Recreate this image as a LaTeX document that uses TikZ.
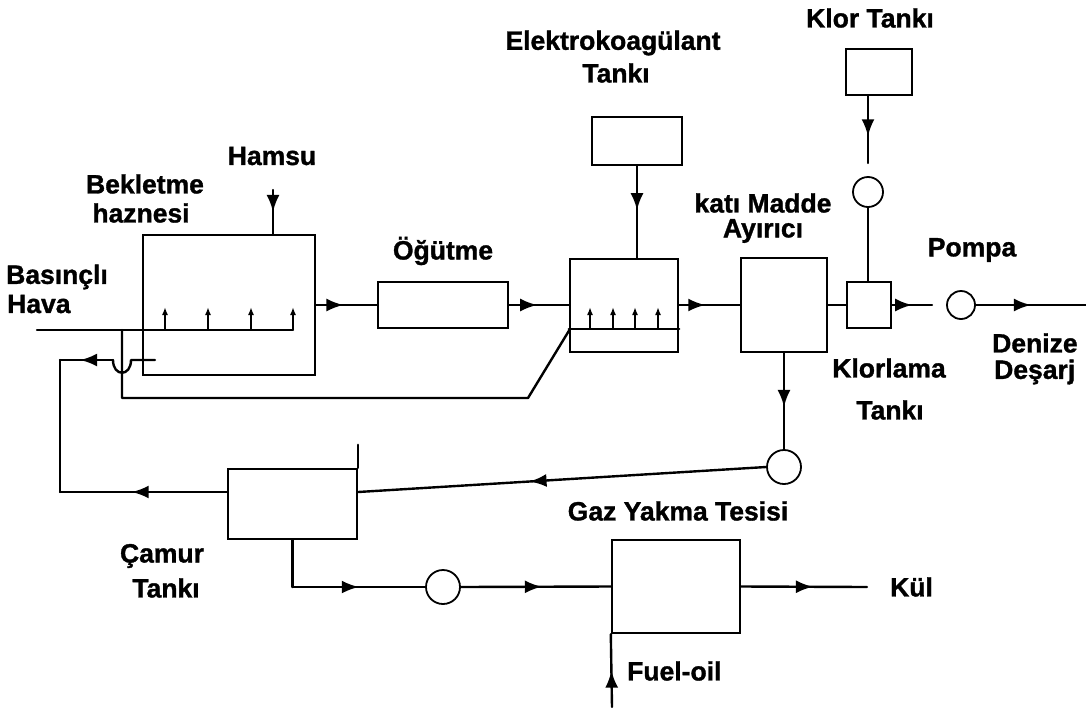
\documentclass[tikz,border=0pt]{standalone}
\usepackage{fontspec}
\setmainfont{Liberation Sans}[BoldFeatures={FakeBold=1.2}]
\usetikzlibrary{arrows.meta,decorations.markings}
\tikzset{
 ln/.style={line width=2.4pt, line cap=round, line join=round},
 box/.style={draw, line width=2.4pt, rectangle, inner sep=0pt},
 circ/.style={draw, line width=1.8pt, circle, inner sep=0pt},
 lbl/.style={font=\bfseries\fontsize{26.5}{30}\selectfont, inner sep=0pt},
 midarr/.style={postaction={decorate}, decoration={markings, mark=at position #1 with {\arrow{Latex[length=17pt,width=13pt]}}}},
 diff/.style={line width=2pt, -{Latex[length=8pt,width=6pt]}},
}
\begin{document}
\begin{tikzpicture}[x=1pt,y=-1pt]
\useasboundingbox (0,0) rectangle (1086,707);
% boxes
\node[box, minimum width=172pt, minimum height=140pt] (bek) at (229,305) {};
\node[box, minimum width=130pt, minimum height=46pt] (ogut) at (443,305) {};
\node[box, minimum width=108pt, minimum height=93pt] (ek) at (624,305.5) {};
\node[box, minimum width=90pt, minimum height=48pt] (ektank) at (637,141) {};
\node[box, minimum width=86pt, minimum height=94pt] (kma) at (784,305) {};
\node[box, minimum width=44pt, minimum height=46pt] (klt) at (869,305) {};
\node[box, minimum width=66pt, minimum height=46pt] (klortank) at (879,72) {};
\node[box, minimum width=129pt, minimum height=70pt] (camur) at (292.5,504) {};
\node[box, minimum width=128pt, minimum height=93pt] (furn) at (676,586.5) {};
% circles
\node[circ, minimum size=30pt] (klorp) at (868,192) {};
\node[circ, minimum size=28pt] (pump) at (961,305) {};
\node[circ, minimum size=34pt] (gaz) at (784,467) {};
\node[circ, minimum size=34pt] (cpump) at (443,587) {};
% labels
\node[lbl] (lklor) at (870,18) {Klor Tankı};
\node[lbl] (lel1) at (613,43) {Elektrokoagülant};
\node[lbl] (lel2) at (616,73) {Tankı};
\node[lbl] (lham) at (272,156) {Hamsu};
\node[lbl] (lbek1) at (145,184) {Bekletme};
\node[lbl] (lbek2) at (141,213) {haznesi};
\node[lbl,anchor=west] (lbas1) at (6,277) {Basınçlı};
\node[lbl,anchor=west] (lbas2) at (7,304) {Hava};
\node[lbl] (logut) at (443,251) {Öğütme};
\node[lbl] (lkat1) at (763,203) {katı Madde};
\node[lbl] (lkat2) at (763,231) {Ayırıcı};
\node[lbl] (lpom) at (972,250) {Pompa};
\node[lbl,anchor=west] (lden1) at (992,343) {Denize};
\node[lbl,anchor=west] (lden2) at (994,372) {Deşarj};
\node[lbl] (lklt1) at (889,368) {Klorlama};
\node[lbl] (lklt2) at (890,410) {Tankı};
\node[lbl] (lgaz) at (678,511) {Gaz Yakma Tesisi};
\node[lbl] (lcam1) at (162,556) {Çamur};
\node[lbl] (lcam2) at (166,588) {Tankı};
\node[lbl,anchor=west] (lkul) at (890,587) {Kül};
\node[lbl,anchor=west] (lfuel) at (627,671) {Fuel-oil};
% coordinates
\coordinate (hamtop) at (273,190);
\coordinate (airL) at (37,330);
\coordinate (airR) at (293,330);
\coordinate (airJ) at (122,330);
\coordinate (airB) at (122,398);
\coordinate (airD) at (528,398);
\coordinate (ekBL) at (570,329);
\coordinate (retIn) at (155,360);
\coordinate (hopR) at (131,360);
\coordinate (hopL) at (113,360);
\coordinate (retT) at (60,360);
\coordinate (retB) at (60,492);
\coordinate (klEnd) at (932,305);
\coordinate (outEnd) at (1086,305);
\coordinate (klorEnd) at (868,163);
\coordinate (kulEnd) at (867,587);
\coordinate (fuelStart) at (612,707);
% main line
\draw[ln,midarr=0.5] (hamtop) -- (bek.north -| hamtop);
\draw[ln,midarr=0.45] (bek.east) -- (ogut.west);
\draw[ln,midarr=0.47] (ogut.east) -- (ek.west |- ogut.east);
\draw[ln,midarr=0.43] (ek.east |- ogut.east) -- (kma.west |- ogut.east);
\draw[ln] (kma.east |- klt.west) -- (klt.west);
\draw[ln,midarr=0.5] (klt.east) -- (klEnd);
\draw[ln,midarr=0.5] (pump.east) -- (outEnd);
% electrocoagulant feed
\draw[ln,midarr=0.48] (ektank.south) -- (ektank.south |- ek.north);
\draw[ln] (ek.west |- ekBL) -- (ek.east |- ekBL);
\foreach \x in {590,613,635,658} \draw[diff] (\x,329) -- (\x,307);
% chlorine
\draw[ln,midarr=0.6] (klortank.south -| klorp) -- (klorEnd);
\draw[ln,line width=1.8pt] (klorp.south) -- (klt.north -| klorp);
% aeration
\draw[ln] (airL) -- (airR);
\foreach \x in {165,208,251,293} \draw[diff] (\x,330) -- (\x,307);
\draw[ln] (airJ) -- (airB) -- (airD) -- (ekBL);
% return loop
\draw[ln] (retIn) -- (hopR) .. controls (131,377) and (113,377) .. (hopL);
\draw[ln,midarr=0.62] (hopL) -- (retT);
\draw[ln] (retT) -- (retB);
\draw[ln,midarr=0.57] (camur.west |- retB) -- (retB);
% solids to gas burner and sludge tank
\draw[ln,midarr=0.56] (kma.south) -- (gaz.north);
\draw[ln,midarr=0.58] (gaz.west) -- (camur.east |- retB);
\draw[ln] (camur.north east) -- ++(0,-23);
% sludge to incinerator
\coordinate (cdown) at (camur.south |- cpump);
\draw[ln] (camur.south) -- (cdown);
\draw[ln,midarr=0.5] (cdown) -- (cpump.west);
\draw[ln,midarr=0.54] (cpump.east) -- (furn.west);
\draw[ln,midarr=0.57] (furn.east) -- (kulEnd);
\draw[ln,midarr=0.5] (fuelStart) -- (furn.south west);
\end{tikzpicture}
\end{document}
